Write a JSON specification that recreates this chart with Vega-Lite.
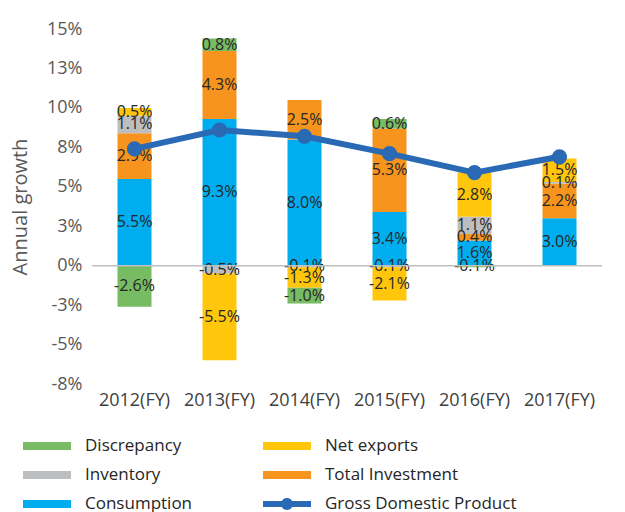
{
  "$schema": "https://vega.github.io/schema/vega-lite/v6.json",
  "width": 510,
  "height": 355,
  "padding": {"left": 10, "top": 20, "right": 10, "bottom": 0},
  "config": {
    "view": {"stroke": null},
    "font": "Open Sans",
    "axis": {"labelOverlap": false}
  },
  "datasets": {
    "parts": [
      {"year": "2012(FY)", "component": "Consumption", "value": 5.5},
      {"year": "2012(FY)", "component": "Total Investment", "value": 2.9},
      {"year": "2012(FY)", "component": "Inventory", "value": 1.1},
      {"year": "2012(FY)", "component": "Net exports", "value": 0.5},
      {"year": "2012(FY)", "component": "Discrepancy", "value": -2.6},
      {"year": "2013(FY)", "component": "Consumption", "value": 9.3},
      {"year": "2013(FY)", "component": "Total Investment", "value": 4.3},
      {"year": "2013(FY)", "component": "Inventory", "value": -0.5},
      {"year": "2013(FY)", "component": "Net exports", "value": -5.5},
      {"year": "2013(FY)", "component": "Discrepancy", "value": 0.8},
      {"year": "2014(FY)", "component": "Consumption", "value": 8.0},
      {"year": "2014(FY)", "component": "Total Investment", "value": 2.5},
      {"year": "2014(FY)", "component": "Inventory", "value": -0.1},
      {"year": "2014(FY)", "component": "Net exports", "value": -1.3},
      {"year": "2014(FY)", "component": "Discrepancy", "value": -1.0},
      {"year": "2015(FY)", "component": "Consumption", "value": 3.4},
      {"year": "2015(FY)", "component": "Total Investment", "value": 5.3},
      {"year": "2015(FY)", "component": "Inventory", "value": -0.1},
      {"year": "2015(FY)", "component": "Net exports", "value": -2.1},
      {"year": "2015(FY)", "component": "Discrepancy", "value": 0.6},
      {"year": "2016(FY)", "component": "Consumption", "value": 1.6},
      {"year": "2016(FY)", "component": "Total Investment", "value": 0.4},
      {"year": "2016(FY)", "component": "Inventory", "value": 1.1},
      {"year": "2016(FY)", "component": "Net exports", "value": 2.8},
      {"year": "2016(FY)", "component": "Discrepancy", "value": -0.1},
      {"year": "2017(FY)", "component": "Consumption", "value": 3.0},
      {"year": "2017(FY)", "component": "Total Investment", "value": 2.2},
      {"year": "2017(FY)", "component": "Inventory", "value": 0.1},
      {"year": "2017(FY)", "component": "Net exports", "value": 1.5}
    ],
    "gdp": [
      {"year": "2012(FY)", "gdp": 7.4},
      {"year": "2013(FY)", "gdp": 8.6},
      {"year": "2014(FY)", "gdp": 8.2},
      {"year": "2015(FY)", "gdp": 7.1},
      {"year": "2016(FY)", "gdp": 5.9},
      {"year": "2017(FY)", "gdp": 6.9}
    ]
  },
  "encoding": {
    "x": {
      "field": "year",
      "type": "nominal",
      "scale": {"paddingInner": 0.6, "paddingOuter": 0.3},
      "axis": {
        "title": null,
        "labelAngle": 0,
        "domain": false,
        "ticks": false,
        "tickSize": 0,
        "labelPadding": 7,
        "labelFontSize": 18,
        "labelColor": "#404040"
      }
    }
  },
  "layer": [
    {
      "data": {"name": "parts"},
      "transform": [
        {"calculate": "indexof(['Consumption','Total Investment','Inventory','Net exports','Discrepancy'], datum.component)", "as": "ord"},
        {"stack": "value", "groupby": ["year"], "sort": [{"field": "ord", "order": "ascending"}], "as": ["v0", "v1"]},
        {"calculate": "(datum.v0 + datum.v1) / 2", "as": "mid"},
        {"calculate": "replace(format(datum.value, '.1f'), '\u2212', '-') + '%'", "as": "label"}
      ],
      "layer": [
        {
          "mark": {"type": "bar"},
          "encoding": {
            "y": {
              "field": "v0",
              "type": "quantitative",
              "scale": {"domain": [-7.5, 15], "nice": false, "zero": false},
              "axis": {
                "values": [-7.5, -5, -2.5, 0, 2.5, 5, 7.5, 10, 12.5, 15],
                "labelExpr": "(datum.value < 0 ? '-' : '') + format(abs(datum.value), '.0f') + '%'",
                "labelOverlap": false,
                "grid": false,
                "domain": false,
                "ticks": false,
                "tickSize": 0,
                "labelPadding": 10,
                "labelFontSize": 18,
                "labelColor": "#595959",
                "title": "Annual growth",
                "titleFontSize": 20,
                "titleFontWeight": "normal",
                "titleColor": "#595959",
                "titlePadding": 16
              }
            },
            "y2": {"field": "v1"},
            "color": {
              "field": "component",
              "type": "nominal",
              "scale": {
                "domain": ["Consumption", "Total Investment", "Inventory", "Net exports", "Discrepancy", "Gross Domestic Product"],
                "range": ["#00AEEF", "#F7941D", "#BDBEC0", "#FFC60B", "#77BB63", "#2A69B4"]
              },
              "legend": {
                "orient": "none",
                "legendX": -69,
                "legendY": 405,
                "title": null,
                "columns": 2,
                "columnPadding": 70,
                "rowPadding": 9,
                "values": ["Discrepancy", "Inventory", "Consumption", "Net exports", "Total Investment", "Gross Domestic Product"],
                "symbolSize": 576,
                "symbolType": "M-1,-0.33H3V0.33H-1Z",
                "symbolStrokeWidth": 0,
                "labelOffset": 38,
                "labelFontSize": 17,
                "labelColor": "#262626",
                "labelLimit": 400,
                "encode": {
                  "symbols": {
                    "update": {
                      "shape": {"signal": "datum.value === 'Gross Domestic Product' ? 'M-1,-0.24H3V0.24H-1Z M1.5,0A0.5,0.5 0 1 1 0.5,0A0.5,0.5 0 1 1 1.5,0Z' : 'M-1,-0.33H3V0.33H-1Z'"}
                    }
                  }
                }
              }
            }
          }
        },
        {
          "mark": {"type": "text", "fontSize": 16, "color": "#262626", "baseline": "middle"},
          "encoding": {
            "y": {
              "field": "mid",
              "type": "quantitative",
              "axis": {
                "values": [-7.5, -5, -2.5, 0, 2.5, 5, 7.5, 10, 12.5, 15],
                "labelExpr": "(datum.value < 0 ? '-' : '') + format(abs(datum.value), '.0f') + '%'",
                "labelOverlap": false,
                "grid": false,
                "domain": false,
                "ticks": false,
                "tickSize": 0,
                "labelPadding": 10,
                "labelFontSize": 18,
                "labelColor": "#595959",
                "title": "Annual growth",
                "titleFontSize": 20,
                "titleFontWeight": "normal",
                "titleColor": "#595959",
                "titlePadding": 16
              }
            },
            "text": {"field": "label", "type": "nominal"}
          }
        }
      ]
    },
    {
      "data": {"values": [{}]},
      "mark": {"type": "rule", "color": "#BFBFBF", "strokeWidth": 1.5},
      "encoding": {
        "y": {
          "datum": 0,
          "type": "quantitative",
          "axis": {
            "values": [-7.5, -5, -2.5, 0, 2.5, 5, 7.5, 10, 12.5, 15],
            "labelExpr": "(datum.value < 0 ? '-' : '') + format(abs(datum.value), '.0f') + '%'",
            "labelOverlap": false,
            "grid": false,
            "domain": false,
            "ticks": false,
            "tickSize": 0,
            "labelPadding": 10,
            "labelFontSize": 18,
            "labelColor": "#595959",
            "title": "Annual growth",
            "titleFontSize": 20,
            "titleFontWeight": "normal",
            "titleColor": "#595959",
            "titlePadding": 16
          }
        },
        "x": null
      }
    },
    {
      "data": {"name": "gdp"},
      "mark": {"type": "line", "color": "#2A69B4", "strokeWidth": 6, "point": {"filled": true, "size": 230, "color": "#2A69B4", "opacity": 1}},
      "encoding": {
        "y": {
          "field": "gdp",
          "type": "quantitative",
          "axis": {
            "values": [-7.5, -5, -2.5, 0, 2.5, 5, 7.5, 10, 12.5, 15],
            "labelExpr": "(datum.value < 0 ? '-' : '') + format(abs(datum.value), '.0f') + '%'",
            "labelOverlap": false,
            "grid": false,
            "domain": false,
            "ticks": false,
            "tickSize": 0,
            "labelPadding": 10,
            "labelFontSize": 18,
            "labelColor": "#595959",
            "title": "Annual growth",
            "titleFontSize": 20,
            "titleFontWeight": "normal",
            "titleColor": "#595959",
            "titlePadding": 16
          }
        }
      }
    }
  ],
  "resolve": {"scale": {"y": "shared"}}
}
